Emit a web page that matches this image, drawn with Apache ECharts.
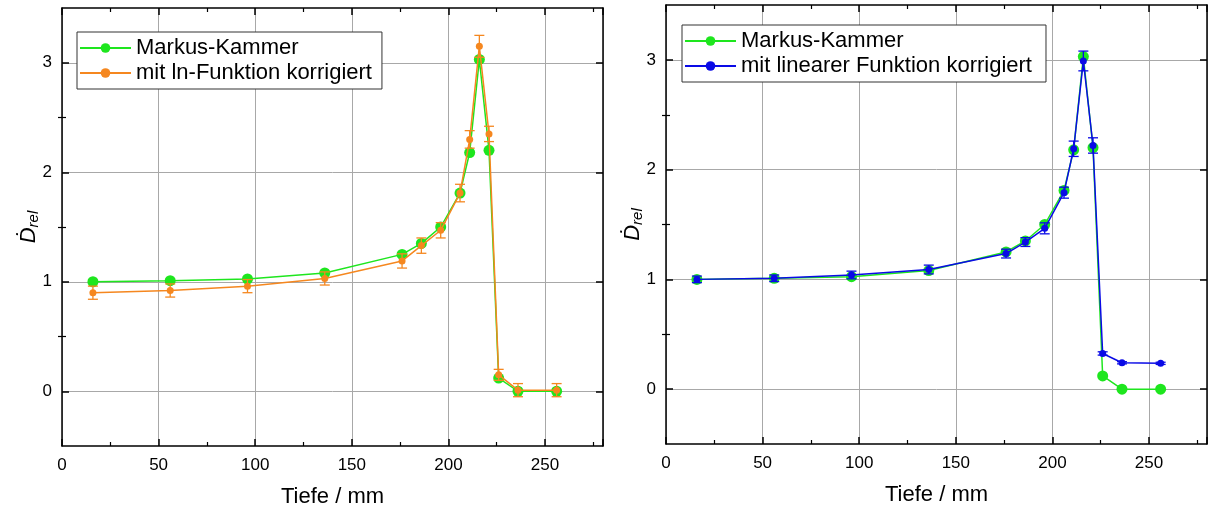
<!DOCTYPE html>
<html><head><meta charset="utf-8">
<script src="https://cdn.jsdelivr.net/npm/echarts@6/dist/echarts.min.js"></script>
<style>html,body{margin:0;padding:0;background:#fff}#c{width:1209px;height:508px}</style>
</head><body><div id="c"></div>
<script>
const depth   = [16, 56, 96, 136, 176, 186, 196, 206, 211, 216, 221, 226, 236, 256];
const markus  = [1.00, 1.01, 1.025, 1.08, 1.25, 1.35, 1.50, 1.81, 2.18, 3.03, 2.20, 0.12, 0.00, 0.00];
const lnCorr  = [0.90, 0.92, 0.96, 1.03, 1.19, 1.33, 1.47, 1.81, 2.30, 3.15, 2.35, 0.15, 0.01, 0.01];
const lnErr   = [0.06, 0.06, 0.06, 0.06, 0.065, 0.07, 0.07, 0.08, 0.08, 0.10, 0.07, 0.05, 0.06, 0.06];
const linCorr = [1.00, 1.01, 1.04, 1.09, 1.235, 1.34, 1.465, 1.79, 2.19, 2.99, 2.22, 0.325, 0.24, 0.235];
const linErr  = [0.03, 0.03, 0.035, 0.04, 0.04, 0.04, 0.05, 0.05, 0.07, 0.09, 0.07, 0.015, 0.01, 0.01];
const xTicks = [0, 50, 100, 150, 200, 250];
const yTicks = [0, 1, 2, 3];
const yMinorTicks = [0.5, 1.5, 2.5];
const nameMarkus = 'Markus-Kammer';
const nameLn = 'mit ln-Funktion korrigiert';
const nameLin = 'mit linearer Funktion korrigiert';

const GREEN = '#1ee61e', ORANGE = '#f5871f', BLUE = '#0a0ae6';
const FONT = 'Arial, "Liberation Sans", sans-serif';

function pairs(ys){ return depth.map((x,i)=>[x, ys[i]]); }
function errData(ys, es){ return depth.map((x,i)=>[x, ys[i]-es[i], ys[i]+es[i]]); }

function errSeries(gi, ys, es, color, cap){
  return {
    type:'custom', xAxisIndex: gi*2, yAxisIndex: gi*4, z: 3,
    data: errData(ys, es), silent:true,
    renderItem: function(params, api){
      const x = api.value(0);
      const lo = api.coord([x, api.value(1)]);
      const hi = api.coord([x, api.value(2)]);
      const st = {stroke: color, lineWidth: 1.3};
      return {type:'group', children:[
        {type:'line', shape:{x1:lo[0], y1:lo[1], x2:hi[0], y2:hi[1]}, style:st},
        {type:'line', shape:{x1:lo[0]-cap, y1:lo[1], x2:lo[0]+cap, y2:lo[1]}, style:st},
        {type:'line', shape:{x1:hi[0]-cap, y1:hi[1], x2:hi[0]+cap, y2:hi[1]}, style:st}
      ]};
    }
  };
}

function xAxes(gi){
  const base = {
    type:'value', gridIndex: gi, min:0, max:280, interval:50,
    axisLine:{show:true, onZero:false, lineStyle:{color:'#000', width:1.5}},
    axisTick:{show:true, inside:true, length:7, lineStyle:{color:'#000', width:1.5}},
    minorTick:{show:true, splitNumber:2, length:4, lineStyle:{color:'#000', width:1.2}},
    splitLine:{show:false}
  };
  return [
    Object.assign({}, base, {
      position:'bottom',
      axisLabel:{color:'#000', fontSize:17, fontFamily:FONT, margin:11, formatter: v => xTicks.includes(v) ? String(v) : ''},
      splitLine:{show:true, lineStyle:{color:'#a8a8a8', width:1}},
      name:'Tiefe / mm', nameLocation:'middle', nameGap:40,
      nameTextStyle:{color:'#000', fontSize:22, fontFamily:FONT}
    }),
    Object.assign({}, base, {position:'top', axisLabel:{show:false}})
  ];
}
function yAxes(gi){
  const base = {
    type:'value', gridIndex: gi, min:-0.5, max:3.5, interval:0.5,
    axisLine:{show:true, onZero:false, lineStyle:{color:'#000', width:1.5}},
    axisTick:{show:true, inside:true, length:7, customValues: yTicks, lineStyle:{color:'#000', width:1.5}},
    splitLine:{show:false}
  };
  const minor = {
    type:'value', gridIndex: gi, min:-0.5, max:3.5, interval:0.5,
    axisLine:{show:false},
    axisLabel:{show:false},
    axisTick:{show:true, inside:true, length:4, customValues: yMinorTicks, lineStyle:{color:'#000', width:1.2}},
    splitLine:{show:false}
  };
  return [
    Object.assign({}, base, {
      position:'left',
      axisLabel:{color:'#000', fontSize:17, fontFamily:FONT, margin:10, customValues: yTicks},
      splitLine:{show:true, lineStyle:{color:'#a8a8a8', width:1}},
      name:'{d|Ḋ}{s|rel}', nameLocation:'middle', nameGap:21, nameRotate:90, nameMoveOverlap:false,
      nameTextStyle:{rich:{
        d:{fontSize:22, fontStyle:'italic', fontFamily:FONT, color:'#000'},
        s:{fontSize:15, fontStyle:'italic', fontFamily:FONT, color:'#000', padding:[10,0,0,0]}
      }}
    }),
    Object.assign({}, base, {position:'right', axisLabel:{show:false}}),
    Object.assign({}, minor, {position:'left'}),
    Object.assign({}, minor, {position:'right'})
  ];
}

const legendBase = {
  orient:'vertical', backgroundColor:'#fff', borderColor:'#333', borderWidth:1,
  padding:[5,10,5,2], itemGap:3, itemWidth:51, itemHeight:12,
  textStyle:{color:'#000', fontSize:22, fontFamily:FONT}
};

const option = {
  animation:false,
  grid:[
    {left:62, top:8, width:541, height:438, containLabel:false, outerBoundsMode:'none'},
    {left:666, top:5, width:541, height:439, containLabel:false, outerBoundsMode:'none'}
  ],
  xAxis:[...xAxes(0), ...xAxes(1)],
  yAxis:[...yAxes(0), ...yAxes(1)],
  legend:[
    Object.assign({}, legendBase, {left:77, top:32, data:[nameMarkus, nameLn]}),
    Object.assign({}, legendBase, {left:682, top:25, padding:[5,14,5,2], data:[nameMarkus, nameLin]})
  ],
  series:[
    {name:nameMarkus, type:'line', xAxisIndex:0, yAxisIndex:0, data:pairs(markus), z:2,
     symbol:'circle', symbolSize:11, itemStyle:{color:GREEN}, lineStyle:{color:GREEN, width:1.5}},
    errSeries(0, lnCorr, lnErr, ORANGE, 5),
    {name:nameLn, type:'line', xAxisIndex:0, yAxisIndex:0, data:pairs(lnCorr), z:4,
     symbol:'circle', symbolSize:7, itemStyle:{color:ORANGE}, lineStyle:{color:ORANGE, width:1.5}},
    {name:nameMarkus, type:'line', xAxisIndex:2, yAxisIndex:4, data:pairs(markus), z:2,
     symbol:'circle', symbolSize:11, itemStyle:{color:GREEN}, lineStyle:{color:GREEN, width:1.5}},
    errSeries(1, linCorr, linErr, BLUE, 5),
    {name:nameLin, type:'line', xAxisIndex:2, yAxisIndex:4, data:pairs(linCorr), z:4,
     symbol:'circle', symbolSize:7, itemStyle:{color:BLUE}, lineStyle:{color:BLUE, width:1.5}}
  ]
};
echarts.init(document.getElementById('c')).setOption(option);
</script></body></html>
